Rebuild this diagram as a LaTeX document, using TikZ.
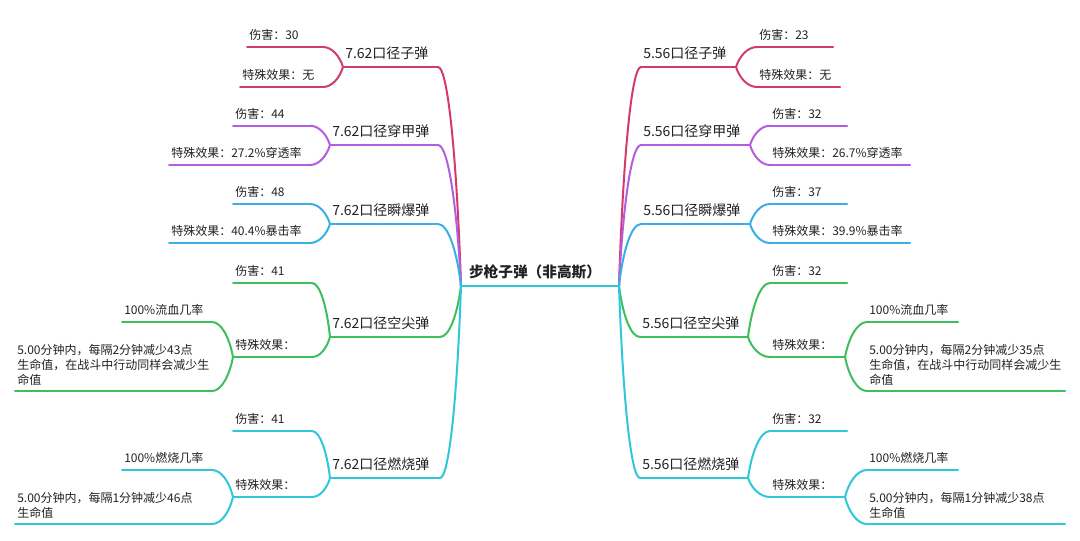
\documentclass[tikz,border=0pt]{standalone}
\usepackage{fontspec}
\setmainfont{Noto Sans CJK SC}
\usetikzlibrary{calc}
\definecolor{cR}{HTML}{D23C6C}
\definecolor{cP}{HTML}{B35EE0}
\definecolor{cB}{HTML}{3AAFE6}
\definecolor{cG}{HTML}{3FBE5C}
\definecolor{cC}{HTML}{2FC7DB}
\definecolor{txt}{HTML}{222222}
\tikzset{
  ln/.style={line width=1.5pt,line cap=round},
  t0/.style={font=\fontsize{11}{13}\selectfont\bfseries,inner sep=0pt,text=txt},
  t1/.style={font=\fontsize{10.5}{12}\selectfont,inner sep=0pt,text=txt},
  t2/.style={font=\fontsize{9}{11.25}\selectfont,inner sep=0pt,text=txt},
  t2m/.style={t2,align=left}
}
% name, colour, x1, x2, y, style, baseline offset, text
\newcommand\mmleaf[8]{%
  \coordinate (#1a) at (#3,#5);
  \coordinate (#1b) at (#4,#5);
  \draw[ln,#2] (#1a) -- (#1b);
  \node[#6,anchor=base west] (#1) at ({#3+2},{#5-#7}) {#8};}
\newcommand\mmlink[3]{%
  \draw[ln,#1] let \p1=(#2),\p2=(#3) in
    (\p1) .. controls ({\x1+0.17*(\x2-\x1)},{\y1+0.55*(\y2-\y1)})
             and ({\x2+0.45*(\x1-\x2)},\y2) .. (\p2);}
\begin{document}
\begin{tikzpicture}[x=0.75pt,y=-0.75pt]
\fill[white] (0,0) rectangle (1080,540);
\useasboundingbox (0,0) rectangle (1080,540);

% root
\coordinate (JL) at (461,286);
\coordinate (JR) at (619,286);
\draw[ln,cC] (JL) -- (JR);
\node[t0,anchor=base] (root) at (535,277.5) {步枪子弹（非高斯）};

% ---------------- left side ----------------
\mmleaf{L1}{cR}{343}{438}{67}{t1}{8.7}{7.62口径子弹}
\mmleaf{L2}{cP}{330}{438}{145}{t1}{8.7}{7.62口径穿甲弹}
\mmleaf{L3}{cB}{330}{438}{224}{t1}{8.7}{7.62口径瞬爆弹}
\mmleaf{L4}{cG}{330}{440}{337}{t1}{8.7}{7.62口径空尖弹}
\mmleaf{L5}{cC}{330}{440}{478}{t1}{8.7}{7.62口径燃烧弹}
\mmlink{cR}{JL}{L1b}
\mmlink{cP}{JL}{L2b}
\mmlink{cB}{JL}{L3b}
\mmlink{cG}{JL}{L4b}
\mmlink{cC}{JL}{L5b}

\mmleaf{L1d}{cR}{247}{323}{47}{t2}{7.5}{伤害：30}
\mmleaf{L1s}{cR}{240}{323}{87}{t2}{7.5}{特殊效果：无}
\mmlink{cR}{L1a}{L1db}
\mmlink{cR}{L1a}{L1sb}

\mmleaf{L2d}{cP}{233}{310}{125.7}{t2}{7.5}{伤害：44}
\mmleaf{L2s}{cP}{169}{310}{165}{t2}{7.5}{特殊效果：27.2\%穿透率}
\mmlink{cP}{L2a}{L2db}
\mmlink{cP}{L2a}{L2sb}

\mmleaf{L3d}{cB}{233}{310}{204}{t2}{7.5}{伤害：48}
\mmleaf{L3s}{cB}{169}{310}{243}{t2}{7.5}{特殊效果：40.4\%暴击率}
\mmlink{cB}{L3a}{L3db}
\mmlink{cB}{L3a}{L3sb}

\mmleaf{L4d}{cG}{233}{312}{283}{t2}{7.5}{伤害：41}
\mmleaf{L4s}{cG}{233}{312}{357}{t2}{7.5}{特殊效果：}
\mmlink{cG}{L4a}{L4db}
\mmlink{cG}{L4a}{L4sb}
\mmleaf{L4s1}{cG}{122}{212}{322}{t2}{7.5}{100\%流血几率}
\mmleaf{L4s2}{cG}{15}{212}{391}{t2m}{6.4}{5.00分钟内，每隔2分钟减少43点\\生命值，在战斗中行动同样会减少生\\命值}
\mmlink{cG}{L4sa}{L4s1b}
\mmlink{cG}{L4sa}{L4s2b}

\mmleaf{L5d}{cC}{233}{312}{431}{t2}{7.5}{伤害：41}
\mmleaf{L5s}{cC}{233}{312}{497}{t2}{7.5}{特殊效果：}
\mmlink{cC}{L5a}{L5db}
\mmlink{cC}{L5a}{L5sb}
\mmleaf{L5s1}{cC}{122}{212}{470}{t2}{7.5}{100\%燃烧几率}
\mmleaf{L5s2}{cC}{15}{212}{524}{t2m}{6.2}{5.00分钟内，每隔1分钟减少46点\\生命值}
\mmlink{cC}{L5sa}{L5s1b}
\mmlink{cC}{L5sa}{L5s2b}

% ---------------- right side ----------------
\mmleaf{R1}{cR}{641}{736}{67}{t1}{8.7}{5.56口径子弹}
\mmleaf{R2}{cP}{641}{750}{145}{t1}{8.7}{5.56口径穿甲弹}
\mmleaf{R3}{cB}{641}{750}{224}{t1}{8.7}{5.56口径瞬爆弹}
\mmleaf{R4}{cG}{640}{748}{337}{t1}{8.7}{5.56口径空尖弹}
\mmleaf{R5}{cC}{640}{748}{478}{t1}{8.7}{5.56口径燃烧弹}
\mmlink{cR}{JR}{R1a}
\mmlink{cP}{JR}{R2a}
\mmlink{cB}{JR}{R3a}
\mmlink{cG}{JR}{R4a}
\mmlink{cC}{JR}{R5a}

\mmleaf{R1d}{cR}{757}{833}{47}{t2}{7.5}{伤害：23}
\mmleaf{R1s}{cR}{757}{840}{87}{t2}{7.5}{特殊效果：无}
\mmlink{cR}{R1b}{R1da}
\mmlink{cR}{R1b}{R1sa}

\mmleaf{R2d}{cP}{770}{847}{125.7}{t2}{7.5}{伤害：32}
\mmleaf{R2s}{cP}{770}{910}{165}{t2}{7.5}{特殊效果：26.7\%穿透率}
\mmlink{cP}{R2b}{R2da}
\mmlink{cP}{R2b}{R2sa}

\mmleaf{R3d}{cB}{770}{847}{204}{t2}{7.5}{伤害：37}
\mmleaf{R3s}{cB}{770}{910}{243}{t2}{7.5}{特殊效果：39.9\%暴击率}
\mmlink{cB}{R3b}{R3da}
\mmlink{cB}{R3b}{R3sa}

\mmleaf{R4d}{cG}{770}{847}{283}{t2}{7.5}{伤害：32}
\mmleaf{R4s}{cG}{770}{845}{357}{t2}{7.5}{特殊效果：}
\mmlink{cG}{R4b}{R4da}
\mmlink{cG}{R4b}{R4sa}
\mmleaf{R4s1}{cG}{867}{958}{322}{t2}{7.5}{100\%流血几率}
\mmleaf{R4s2}{cG}{867}{1065}{391}{t2m}{6.4}{5.00分钟内，每隔2分钟减少35点\\生命值，在战斗中行动同样会减少生\\命值}
\mmlink{cG}{R4sb}{R4s1a}
\mmlink{cG}{R4sb}{R4s2a}

\mmleaf{R5d}{cC}{770}{847}{431}{t2}{7.5}{伤害：32}
\mmleaf{R5s}{cC}{770}{845}{497}{t2}{7.5}{特殊效果：}
\mmlink{cC}{R5b}{R5da}
\mmlink{cC}{R5b}{R5sa}
\mmleaf{R5s1}{cC}{867}{958}{470}{t2}{7.5}{100\%燃烧几率}
\mmleaf{R5s2}{cC}{867}{1065}{524}{t2m}{6.2}{5.00分钟内，每隔1分钟减少38点\\生命值}
\mmlink{cC}{R5sb}{R5s1a}
\mmlink{cC}{R5sb}{R5s2a}
\end{tikzpicture}
\end{document}
